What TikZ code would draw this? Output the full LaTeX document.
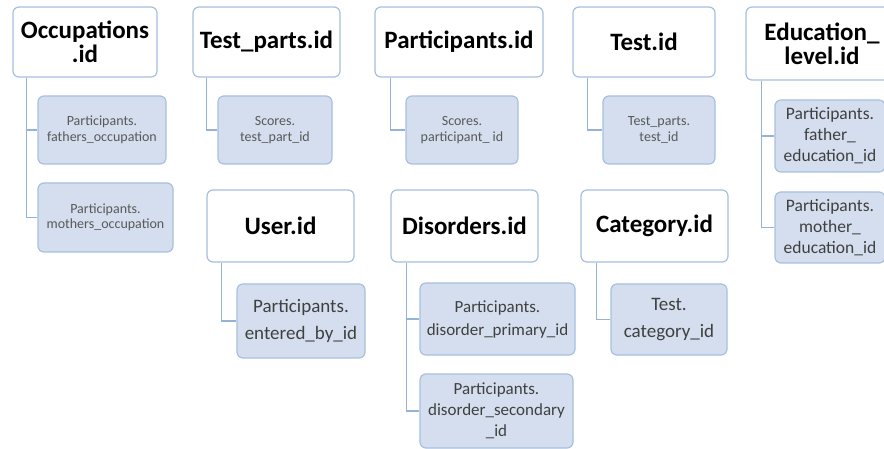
\documentclass[tikz,border=0pt]{standalone}
\usepackage{fontspec}
\setmainfont{Carlito}
\definecolor{boxline}{RGB}{167,192,222}
\definecolor{boxfill}{RGB}{212,222,238}
\definecolor{linkline}{RGB}{149,179,215}
\begin{document}
\begin{tikzpicture}[x=1pt, y=-1pt,
  keybox/.style={draw=boxline, line width=1.2pt, fill=white, rounded corners=6pt, align=center, inner sep=2pt, font=\fontsize{25}{24}\selectfont\bfseries},
  refbox/.style={draw=boxline, line width=1.2pt, fill=boxfill, rounded corners=6pt, align=center, inner sep=2pt, text=black!75, font=\fontsize{18}{24}\selectfont},
  refsmall/.style={refbox, text=black!65, font=\fontsize{14}{15.5}\selectfont},
  link/.style={draw=linkline, line width=1.2pt}]
\useasboundingbox (0,0) rectangle (884,449);
\clip (0,0) rectangle (884,449);

% top row
\node[keybox, minimum width=144pt, minimum height=70pt] (occ) at (85,42) {Occupations\\.id};
\node[refsmall, minimum width=128pt, minimum height=68pt] (occA) at (102,130) {Participants.\\fathers\_occupation};
\node[refsmall, minimum width=135pt, minimum height=69pt] (occB) at (105.5,217.5) {Participants.\\mothers\_occupation};

\node[keybox, minimum width=147pt, minimum height=70pt] (tparts) at (266.5,42) {Test\_parts.id};
\node[refsmall, minimum width=114pt, minimum height=68pt] (tpartsA) at (275,130) {Scores.\\test\_part\_id};

\node[keybox, minimum width=168pt, minimum height=70pt] (part) at (459,42) {Participants.id};
\node[refsmall, minimum width=112pt, minimum height=68pt] (partA) at (462,130) {Scores.\\participant\_ id};

\node[keybox, minimum width=142pt, minimum height=70pt] (test) at (644,42) {Test.id};
\node[refsmall, minimum width=112pt, minimum height=68pt] (testA) at (659,130) {Test\_parts.\\test\_id};

\node[keybox, minimum width=152pt, minimum height=73pt] (edu) at (822,43.5) {Education\_\\level.id};
\node[refbox, minimum width=110pt, minimum height=72pt, font=\fontsize{17.5}{21}\selectfont] (eduA) at (830,136) {Participants.\\father\_\\education\_id};
\node[refbox, minimum width=110pt, minimum height=71pt, font=\fontsize{17.5}{21}\selectfont] (eduB) at (830,227.5) {Participants.\\mother\_\\education\_id};

% bottom row
\node[keybox, minimum width=147pt, minimum height=72pt] (user) at (280.5,226) {User.id};
\node[refbox, minimum width=128pt, minimum height=74pt, font=\fontsize{19}{27}\selectfont] (userA) at (301,321) {Participants.\\entered\_by\_id};

\node[keybox, minimum width=147pt, minimum height=72pt] (dis) at (464.5,226) {Disorders.id};
\node[refbox, minimum width=155pt, minimum height=72pt, font=\fontsize{17}{23}\selectfont] (disA) at (497.5,319) {Participants.\\disorder\_primary\_id};
\node[refbox, minimum width=153pt, minimum height=74pt, font=\fontsize{17}{21}\selectfont] (disB) at (496.5,411) {Participants.\\disorder\_secondary\\\_id};

\node[keybox, minimum width=147pt, minimum height=72pt] (cat) at (654.5,226) {Category.id};
\node[refbox, minimum width=116pt, minimum height=71pt, font=\fontsize{19}{27}\selectfont] (catA) at (669,319.5) {Test.\\category\_id};

% connectors
\draw[link] ([xshift=14pt]occ.south west) |- (occA.west);
\draw[link] ([xshift=14pt]occ.south west) |- (occB.west);
\draw[link] ([xshift=14pt]tparts.south west) |- (tpartsA.west);
\draw[link] ([xshift=16pt]part.south west) |- (partA.west);
\draw[link] ([xshift=15pt]test.south west) |- (testA.west);
\draw[link] ([xshift=16pt]edu.south west) |- (eduA.west);
\draw[link] ([xshift=16pt]edu.south west) |- (eduB.west);
\draw[link] ([xshift=15pt]user.south west) |- (userA.west);
\draw[link] ([xshift=16pt]dis.south west) |- (disA.west);
\draw[link] ([xshift=16pt]dis.south west) |- (disB.west);
\draw[link] ([xshift=16pt]cat.south west) |- (catA.west);
\end{tikzpicture}
\end{document}
